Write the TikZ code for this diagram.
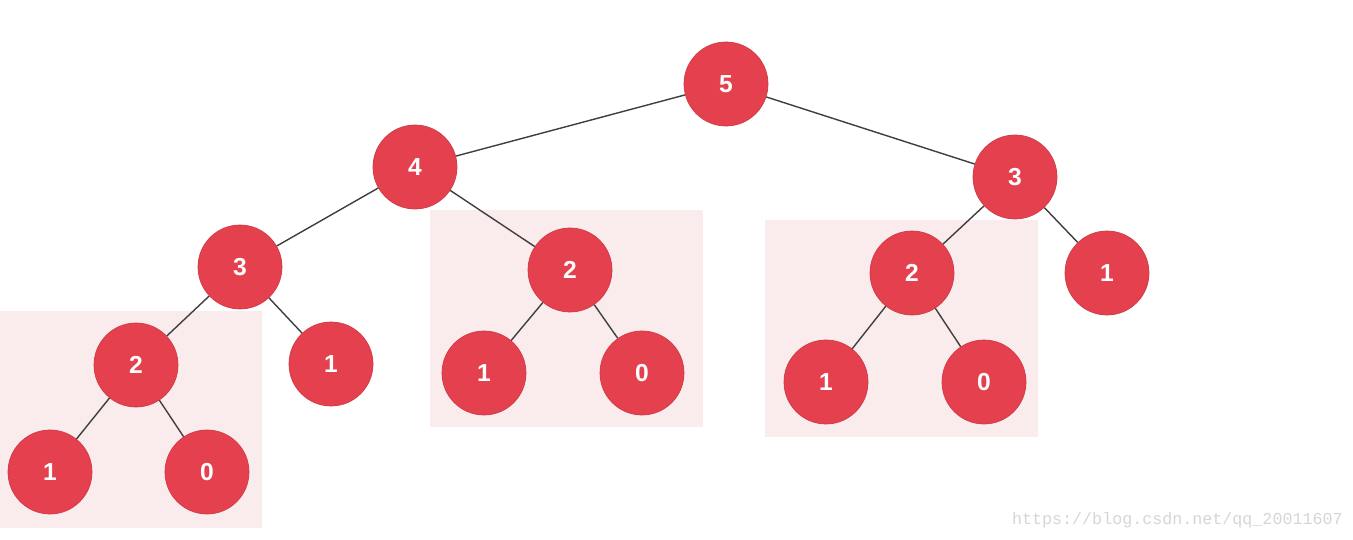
\documentclass[tikz,border=0pt]{standalone}
\usepackage{fontspec}
\usepackage{tikz}
\usepackage{xcolor}
\setsansfont{Liberation Sans}
\setmonofont{Liberation Mono}
\definecolor{Heap_Red}{HTML}{E5404E}
\definecolor{Heap_Pink}{HTML}{FAEBEC}
\definecolor{Heap_Edge}{HTML}{3F3F3F}
\definecolor{Mark_Gray}{HTML}{D6D6D6}

\begin{document}
\begin{tikzpicture}[x=0.02cm, y=-0.02cm,
    heapnode/.style={circle, fill=Heap_Red, draw=Heap_Red!90!black, line width=0.4pt,
        minimum size=1.68cm, inner sep=0pt, text=white, font=\sffamily\bfseries\fontsize{14}{14}\selectfont},
    treeedge/.style={Heap_Edge, line width=0.8pt},
    subtree/.style={fill=Heap_Pink, draw=none}]

    % All coordinates are pixels of the 1353 x 540 frame
    \useasboundingbox (0,0) rectangle (1353,540);
    \fill[white] (0,0) rectangle (1353,540);

    % === Shaded subtrees ===
    \fill[subtree] (0,311) rectangle (262,528);
    \fill[subtree] (430,210) rectangle (703,427);
    \fill[subtree] (765,220) rectangle (1038,437);

    % === Nodes, level by level ===
    \node[heapnode] (n5) at (726,84) {5};

    \node[heapnode] (n4) at (415,167) {4};
    \node[heapnode] (r3) at (1015,177) {3};

    \node[heapnode] (l3) at (240,267) {3};
    \node[heapnode] (m2) at (570,270) {2};
    \node[heapnode] (r2) at (912,273) {2};
    \node[heapnode] (r1) at (1107,273) {1};

    \node[heapnode] (l2) at (136,365) {2};
    \node[heapnode] (l1) at (331,364) {1};
    \node[heapnode] (m1) at (484,373) {1};
    \node[heapnode] (m0) at (642,373) {0};
    \node[heapnode] (s1) at (826,382) {1};
    \node[heapnode] (s0) at (984,382) {0};

    \node[heapnode] (b1) at (50,472) {1};
    \node[heapnode] (b0) at (207,472) {0};

    % === Edges ===
    \draw[treeedge] (n5) -- (n4);
    \draw[treeedge] (n5) -- (r3);
    \draw[treeedge] (n4) -- (l3);
    \draw[treeedge] (n4) -- (m2);
    \draw[treeedge] (r3) -- (r2);
    \draw[treeedge] (r3) -- (r1);
    \draw[treeedge] (l3) -- (l2);
    \draw[treeedge] (l3) -- (l1);
    \draw[treeedge] (m2) -- (m1);
    \draw[treeedge] (m2) -- (m0);
    \draw[treeedge] (r2) -- (s1);
    \draw[treeedge] (r2) -- (s0);
    \draw[treeedge] (l2) -- (b1);
    \draw[treeedge] (l2) -- (b0);

    % === Watermark ===
    \node[anchor=east, text=Mark_Gray, font=\ttfamily\fontsize{9.5}{9.5}\selectfont, inner sep=0pt]
        (mark) at (1343,520) {https://blog.csdn.net/qq\_20011607};

\end{tikzpicture}
\end{document}
